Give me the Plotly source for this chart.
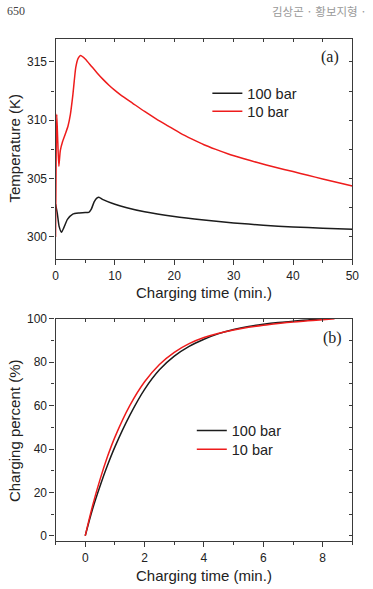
import plotly.graph_objects as go

# ---- Data: panel (a) temperature vs charging time ----
t_a_100 = [0, 0.3, 0.6, 1.0, 1.4, 2.0, 2.9, 4.0, 5.0, 5.6, 6.0, 6.5, 7.0, 7.3, 8.0,
           10, 12, 15, 20, 25, 30, 35, 40, 45, 50]
T_a_100 = [302.8, 302.0, 300.9, 300.4, 300.8, 301.5, 301.95, 302.05, 302.1, 302.1,
           302.35, 303.0, 303.35, 303.4, 303.2, 302.8, 302.5, 302.15, 301.75,
           301.45, 301.2, 301.0, 300.85, 300.75, 300.65]
t_a_10 = [0, 0.1, 0.2, 0.35, 0.55, 0.8, 1.2, 1.7, 2.1, 2.5, 2.9, 3.4, 3.8, 4.2,
          5, 6, 7, 8, 9, 10, 11, 13, 15, 17, 19, 21, 23, 25, 27, 29, 31.6, 34, 37,
          40, 42.5, 45, 47.5, 50]
T_a_10 = [300.0, 307.0, 310.5, 308.5, 306.05, 307.4, 308.2, 308.9, 309.5, 310.5,
          312.1, 314.5, 315.3, 315.55,
          315.25, 314.65, 314.05, 313.5, 313.0, 312.55, 312.15, 311.45, 310.75,
          310.1, 309.5, 308.9, 308.38, 307.9, 307.5, 307.13, 306.72, 306.37, 305.97,
          305.6, 305.28, 304.97, 304.66, 304.36]

# ---- Data: panel (b) charging percent vs charging time ----
t_b_100 = [0, 0.25, 0.5, 0.75, 1.0, 1.5, 2.0, 2.5, 3.0, 3.5, 4.0, 4.5, 5.0, 5.5, 6.0,
           6.5, 7.0, 7.5, 8.1]
P_b_100 = [0, 12.5, 23.0, 32.5, 41.0, 55.5, 67.5, 76.5, 82.8, 87.3, 90.6, 93.2, 95.1,
           96.5, 97.5, 98.3, 98.9, 99.5, 100]
t_b_10 = [0, 0.25, 0.5, 0.75, 1.0, 1.5, 2.0, 2.5, 3.0, 3.5, 4.0, 4.5, 5.0, 5.5, 6.0,
          6.5, 7.0, 7.5, 8.0, 8.4]
P_b_10 = [0, 14, 26, 36.5, 45.5, 60.0, 71.0, 79.0, 84.6, 88.6, 91.4, 93.4, 94.9,
          96.1, 97.1, 97.9, 98.6, 99.1, 99.6, 100]

series_names = ["100 bar", "10 bar"]
x_ticks_a = [0, 10, 20, 30, 40, 50]
y_ticks_a = [300, 305, 310, 315]
x_ticks_b = [0, 2, 4, 6, 8]
y_ticks_b = [0, 20, 40, 60, 80, 100]

W, H = 373, 589
BLACK = "#1c1c1c"
RED = "#ee1c1c"
AX = "#3a3a3a"
SANS = "Liberation Sans, Arial, sans-serif"
SERIF = "Liberation Serif, Times New Roman, serif"

def px_x(p):
    return p / W

def px_y(p):
    return 1 - p / H

fig = go.Figure()

# Panel (a)
fig.add_trace(go.Scatter(x=t_a_100, y=T_a_100, mode="lines", name=series_names[0],
                         line=dict(color=BLACK, width=1.5, shape="spline", smoothing=0.5),
                         xaxis="x", yaxis="y", legend="legend"))
fig.add_trace(go.Scatter(x=t_a_10, y=T_a_10, mode="lines", name=series_names[1],
                         line=dict(color=RED, width=1.5, shape="spline", smoothing=0.5),
                         xaxis="x", yaxis="y", legend="legend3"))
# Panel (b)
fig.add_trace(go.Scatter(x=t_b_100, y=P_b_100, mode="lines", name=series_names[0],
                         line=dict(color=BLACK, width=1.5, shape="spline", smoothing=1.0),
                         xaxis="x2", yaxis="y2", legend="legend2"))
fig.add_trace(go.Scatter(x=t_b_10, y=P_b_10, mode="lines", name=series_names[1],
                         line=dict(color=RED, width=1.5, shape="spline", smoothing=1.0),
                         xaxis="x2", yaxis="y2", legend="legend4"))
# empty traces so mirror axes (top/right, inward ticks) are drawn
fig.add_trace(go.Scatter(x=[], y=[], xaxis="x3", yaxis="y3", showlegend=False, hoverinfo="skip"))
fig.add_trace(go.Scatter(x=[], y=[], xaxis="x4", yaxis="y4", showlegend=False, hoverinfo="skip"))

xdom = [px_x(54), px_x(359)]
ydom_a = [px_y(256), px_y(32)]
ydom_b = [px_y(542.3), px_y(316.7)]
xr_a = [0, 50]
yr_a = [298.1, 317.0]
xr_b = [-1, 9]
yr_b = [-2.4, 100]

tickfont = dict(family=SANS, size=12, color="#222")

def main_axis(rng, dom, anchor, tickvals, minor_dtick, side):
    return dict(domain=dom, range=rng, anchor=anchor, side=side,
                showline=True, linecolor=AX, linewidth=1.3,
                showgrid=False, zeroline=False,
                ticks="outside", ticklen=5, tickwidth=1.2, tickcolor=AX,
                tickmode="array", tickvals=tickvals,
                tickfont=tickfont,
                minor=dict(ticks="outside", dtick=minor_dtick, ticklen=3,
                           tickwidth=1.1, tickcolor=AX, showgrid=False),
                fixedrange=True)

def mirror_axis(rng, overlay, anchor, side, dtick, tick0):
    return dict(range=rng, overlaying=overlay, anchor=anchor, side=side,
                showline=True, linecolor=AX, linewidth=1.3,
                showgrid=False, zeroline=False,
                ticks="inside", ticklen=3, tickwidth=1.1, tickcolor=AX,
                tickmode="linear", dtick=dtick, tick0=tick0,
                showticklabels=False, fixedrange=True)

legfont = dict(family=SANS, size=14.5, color="#222")

def leg(xp, yp):
    return dict(x=px_x(xp), y=px_y(yp), xanchor="left", yanchor="middle",
                bgcolor="rgba(0,0,0,0)", font=legfont, itemwidth=30,
                borderwidth=0)

fig.update_layout(
    width=W, height=H,
    margin=dict(l=0, r=0, t=0, b=0),
    paper_bgcolor="white", plot_bgcolor="white",
    font=dict(family=SANS, color="#222"),
    xaxis=main_axis(xr_a, xdom, "y", x_ticks_a, 5, "bottom"),
    yaxis=main_axis(yr_a, ydom_a, "x", y_ticks_a, 2.5, "left"),
    xaxis2=main_axis(xr_b, xdom, "y2", x_ticks_b, 1, "bottom"),
    yaxis2=main_axis(yr_b, ydom_b, "x2", y_ticks_b, 10, "left"),
    xaxis3=mirror_axis(xr_a, "x", "y", "top", 5, 0),
    yaxis3=mirror_axis(yr_a, "y", "x", "right", 2.5, 300),
    xaxis4=mirror_axis(xr_b, "x2", "y2", "top", 1, 0),
    yaxis4=mirror_axis(yr_b, "y2", "x2", "right", 10, 0),
    legend=leg(210, 87.7),
    legend3=leg(210, 106),
    legend2=leg(194, 430.2),
    legend4=leg(194, 449.2),
    showlegend=True,
)

annos = [
    dict(text="Temperature (K)", x=px_x(12), y=px_y(144), textangle=-90,
         font=dict(family=SANS, size=15, color="#222")),
    dict(text="Charging time (min.)", x=px_x(206.5), y=px_y(290),
         font=dict(family=SANS, size=15, color="#222")),
    dict(text="Charging percent (%)", x=px_x(12), y=px_y(430), textangle=-90,
         font=dict(family=SANS, size=15, color="#222")),
    dict(text="Charging time (min.)", x=px_x(206.5), y=px_y(577),
         font=dict(family=SANS, size=15, color="#222")),
    dict(text="(a)", x=px_x(336.5), y=px_y(51),
         font=dict(family=SERIF, size=16, color="#222")),
    dict(text="(b)", x=px_x(339), y=px_y(336),
         font=dict(family=SERIF, size=16, color="#222")),
    dict(text="650", x=px_x(2), y=px_y(4), xanchor="left",
         font=dict(family=SERIF, size=12, color="#444")),
    dict(text="김상곤 · 황보지형 ·", x=px_x(274), y=px_y(4), xanchor="left",
         font=dict(family="Noto Sans CJK KR", size=11.5, color="#999")),
]
for a in annos:
    a.setdefault("xanchor", "center")
    a.update(xref="paper", yref="paper", yanchor="middle", showarrow=False)
fig.update_layout(annotations=annos)

fig.write_html("out.html", config={"displayModeBar": False})
